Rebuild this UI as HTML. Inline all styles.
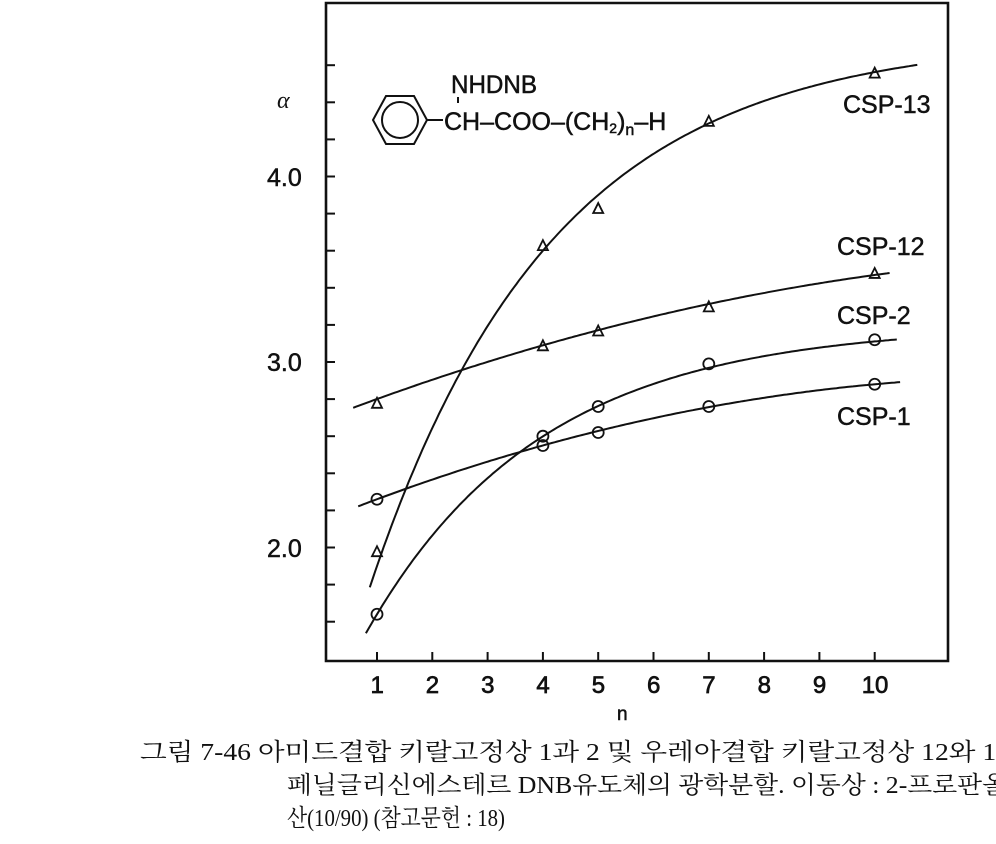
<!DOCTYPE html>
<html><head><meta charset="utf-8"><style>
html,body{margin:0;padding:0;background:#fff;width:996px;height:844px;overflow:hidden}
svg{display:block}
.l{font-family:"Liberation Sans",sans-serif;fill:#111;stroke:#111;stroke-width:0.5;font-size:25px}
.c{font-family:"Liberation Serif","Noto Serif CJK SC","Noto Sans CJK KR",serif;fill:#111;font-size:24px}
</style></head><body>
<svg id="s" width="996" height="844" viewBox="0 0 996 844">
<path d="M326,3 V661 H948 V3 Z" stroke="#111" stroke-width="2.6" fill="none"/>
<g id="ticks" stroke="#111" stroke-width="2"></g>
<g id="curves" stroke="#111" stroke-width="2" fill="none"></g>
<g id="marks" stroke="#111" stroke-width="1.8" fill="none"></g>
<g class="l">
<text x="843" y="113">CSP-13</text>
<text x="837" y="255">CSP-12</text>
<text x="837" y="324">CSP-2</text>
<text x="837" y="425">CSP-1</text>
</g>
<g class="l" font-size="23" stroke-width="0.8">
<text x="267" y="186">4.0</text>
<text x="267" y="371">3.0</text>
<text x="267" y="557">2.0</text>
<text x="617" y="720" font-size="19">n</text>
</g>
<text x="277" y="108" font-style="italic" font-family="Liberation Serif,serif" font-size="24" fill="#111">α</text>
<g class="l" font-size="21" stroke-width="0.3">
<text x="451" y="93" textLength="86" lengthAdjust="spacingAndGlyphs">NHDNB</text>
<text x="444" y="130">CH–COO–(CH<tspan font-size="14" dy="3">2</tspan><tspan dy="-3">)</tspan><tspan font-size="16" dy="5">n</tspan><tspan dy="-5">–H</tspan></text>
</g>
<line x1="458" y1="97" x2="458" y2="103" stroke="#111" stroke-width="2"/>
<g stroke="#111" stroke-width="2" fill="none">
<polygon points="386,96 414,96 427,120 414,144 386,144 373,120"/>
<circle cx="400" cy="120" r="18"/>
<line x1="427" y1="120" x2="443" y2="120"/>
</g>
<text class="c" x="140" y="760" textLength="870" lengthAdjust="spacingAndGlyphs">그림 7-46  아미드결합 키랄고정상 1과 2 및 우레아결합 키랄고정상 12와 13</text>
<text class="c" x="287" y="793" textLength="720" lengthAdjust="spacingAndGlyphs">페닐글리신에스테르 DNB유도체의 광학분할. 이동상 : 2-프로판올</text>
<text class="c" x="287" y="826" textLength="218" lengthAdjust="spacingAndGlyphs">산(10/90) (참고문헌 : 18)</text>
</svg>
<script>
var X=function(n){return 377+(n-1)*55.3}, Y=function(a){return 362-(a-3)*185.5};
var ns="http://www.w3.org/2000/svg";
function el(g,t,at){var e=document.createElementNS(ns,t);for(var k in at)e.setAttribute(k,at[k]);document.getElementById(g).appendChild(e);return e;}
for(var n=1;n<=10;n++){var x=X(n);el("ticks","line",{x1:x,y1:661,x2:x,y2:652});
var tx=el("ticks","text",{x:x-(n==10?13:6.5),y:693,"font-size":24,"font-family":"Liberation Sans,sans-serif","stroke-width":0.7,stroke:"#111",fill:"#111"});tx.textContent=String(n);}
for(var a=1.6;a<=4.61;a+=0.2){var y=Y(a);el("ticks","line",{x1:326,y1:y,x2:335,y2:y});}
function curve(f,n0,n1){var p=[];for(var n=n0;n<=n1+1e-9;n+=0.05)p.push(X(n).toFixed(1)+","+Y(f(n)).toFixed(1));el("curves","polyline",{points:p.join(" ")});}
curve(function(n){return 4.75-2.85*Math.exp(-0.3025*(n-1))},0.87,10.8);
curve(function(n){return 3.2-1.56*Math.exp(-0.318*(n-1))},0.8,10.4);
curve(function(n){return 2.689+0.115*n-0.0037*n*n},0.57,10.3);
curve(function(n){return 2.145+0.1198*n-0.00463*n*n},0.66,10.5);
function tri(n,a){var x=X(n),y=Y(a);el("marks","polygon",{points:(x-5)+","+(y+5)+" "+(x+5)+","+(y+5)+" "+x+","+(y-5)});}
function cir(n,a){el("marks","circle",{cx:X(n),cy:Y(a),r:5.5});}
[[1,1.98],[4,3.63],[5,3.83],[7,4.3],[10,4.56],[1,2.78],[4,3.09],[5,3.17],[7,3.3],[10,3.48]].forEach(function(p){tri(p[0],p[1])});
[[1,1.64],[4,2.6],[5,2.76],[7,2.99],[10,3.12],[1,2.26],[4,2.55],[5,2.62],[7,2.76],[10,2.88]].forEach(function(p){cir(p[0],p[1])});
</script>
</body></html>
